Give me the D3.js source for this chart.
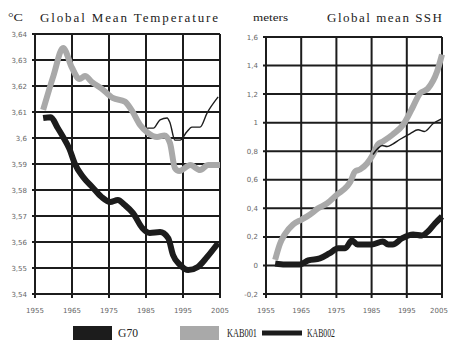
<!DOCTYPE html>
<html>
<head>
<meta charset="utf-8">
<script src="https://cdn.jsdelivr.net/npm/d3@7"></script>
<style>
  body { margin: 0; background: white; }
  .tick-label { font-family: "DejaVu Sans", sans-serif; font-size: 7px; fill: #666; }
  .title { font-family: "Liberation Serif", serif; fill: #222; }
</style>
</head>
<body>
<div id="vis"></div>
<script>
// years on the x axis
let yearTicks = [1955, 1965, 1975, 1985, 1995, 2005];

// temperature panel
let tempTicks = [3.54, 3.55, 3.56, 3.57, 3.58, 3.59, 3.6, 3.61, 3.62, 3.63, 3.64];
let tempLabels = ["3,54", "3,55", "3,56", "3,57", "3,58", "3,59", "3,6", "3,61", "3,62", "3,63", "3,64"];

let tempKAB001 = [
  [1957.2, 3.6108], [1960, 3.624], [1962.6, 3.6346], [1965, 3.627], [1967, 3.6227], [1968.5, 3.6238],
  [1970.4, 3.6215], [1973, 3.619], [1976, 3.6154], [1979.3, 3.614], [1981.2, 3.6105], [1983.4, 3.605],
  [1985.5, 3.602], [1988, 3.6004], [1990, 3.601], [1991.5, 3.598], [1992.8, 3.5885], [1994, 3.5873],
  [1997, 3.5896], [1999.6, 3.5877], [2001.8, 3.5896], [2005, 3.5896]
];
let tempG70 = [
  [1985.3, 3.6038], [1987, 3.6038], [1988.8, 3.607], [1990.7, 3.6077], [1991.5, 3.6058], [1992.8, 3.5992],
  [1994.2, 3.5992], [1996, 3.6023], [1997.4, 3.6042], [1999.6, 3.6042], [2001.5, 3.6096], [2004.5, 3.6158]
];
let tempKAB002 = [
  [1957.2, 3.6077], [1959.3, 3.608], [1961, 3.6042], [1962.6, 3.6004], [1964.3, 3.5958], [1965.8, 3.590],
  [1968, 3.585], [1970.7, 3.5808], [1973, 3.5773], [1975.3, 3.5754], [1977.4, 3.5762], [1979.3, 3.5742],
  [1981.5, 3.5711], [1984, 3.5654], [1986, 3.5635], [1988.8, 3.5638], [1991, 3.5615], [1992.3, 3.555],
  [1994.2, 3.5512], [1996.4, 3.5492], [1999, 3.5504], [2001.5, 3.5542], [2004.5, 3.5596]
];

// sea surface height panel
let sshTicks = [-0.2, 0, 0.2, 0.4, 0.6, 0.8, 1, 1.2, 1.4, 1.6];
let sshLabels = ["-0,2", "0", "0,2", "0,4", "0,6", "0,8", "1", "1,2", "1,4", "1,6"];

let sshKAB001 = [
  [1957.6, 0.04], [1959, 0.154], [1960.4, 0.22], [1962.7, 0.287], [1965.2, 0.322], [1967.5, 0.357],
  [1969.8, 0.40], [1972.3, 0.434], [1975.2, 0.497], [1978, 0.553], [1979, 0.588], [1980.3, 0.658],
  [1981.7, 0.672], [1983.7, 0.714], [1985.4, 0.777], [1986.8, 0.847], [1988.2, 0.868], [1991, 0.917],
  [1994, 0.987], [1996.5, 1.099], [1998.7, 1.204], [2001, 1.239], [2003.6, 1.358], [2005, 1.477]
];
let sshG70 = [
  [1985.4, 0.777], [1986.8, 0.82], [1988, 0.84], [1989.4, 0.833], [1991, 0.85], [1993, 0.882],
  [1996, 0.924], [1998.2, 0.95], [2000, 0.938], [2002.5, 0.994], [2005, 1.029]
];
let sshKAB002 = [
  [1957.6, 0.014], [1960.4, 0.007], [1964.6, 0.007], [1967, 0.035], [1970.3, 0.049], [1973, 0.084],
  [1975.5, 0.12], [1977.5, 0.12], [1979.4, 0.175], [1981, 0.147], [1985, 0.147], [1988.2, 0.168],
  [1989.7, 0.147], [1991, 0.147], [1993.6, 0.189], [1996.8, 0.217], [1999.3, 0.21], [2001, 0.238],
  [2003, 0.294], [2005, 0.343]
];

let seriesNames = ["G70", "KAB001", "KAB002"];

let width = 449, height = 340;
let grey = "#a9a9a9", dark = "#1c1c1c";

let svg = d3.select('#vis')
  .append('svg')
  .attr("width", width)
  .attr("height", height)
  .style('background-color', 'white');

function panel(opts) {
  let x = d3.scaleLinear().domain([1955, 2005]).range(opts.xr);
  let y = d3.scaleLinear().domain(opts.ydom).range(opts.yr);
  let g = svg.append("g");

  // horizontal grid + little outer tick
  g.selectAll(".hg").data(opts.ticks).join("line")
    .attr("x1", opts.xr[0] - 3).attr("x2", opts.xr[1])
    .attr("y1", d => y(d)).attr("y2", d => y(d))
    .attr("stroke", dark).attr("stroke-width", 2);

  // vertical grid, running past the bottom a bit
  g.selectAll(".vg").data(yearTicks).join("line")
    .attr("x1", d => x(d)).attr("x2", d => x(d))
    .attr("y1", opts.yr[1]).attr("y2", opts.yr[0] + 4)
    .attr("stroke", dark).attr("stroke-width", 2);

  g.selectAll(".yl").data(opts.ticks).join("text")
    .attr("class", "tick-label")
    .attr("x", opts.xr[0] - 8)
    .attr("y", d => y(d) + 2.5)
    .attr("text-anchor", "end")
    .text((d, i) => opts.labels[i]);

  // keep the last year label inside the picture
  g.selectAll(".xl").data(yearTicks).join("text")
    .attr("class", "tick-label")
    .attr("x", d => Math.min(x(d), width - 10))
    .attr("y", 313)
    .attr("text-anchor", "middle")
    .text(d => d);

  let line = d3.line().x(d => x(d[0])).y(d => y(d[1])).curve(d3.curveMonotoneX);

  g.append("path").datum(opts.kab001).attr("d", line)
    .attr("fill", "none").attr("stroke", grey).attr("stroke-width", 6)
    .attr("stroke-linejoin", "round");
  g.append("path").datum(opts.kab002).attr("d", line)
    .attr("fill", "none").attr("stroke", dark).attr("stroke-width", 6)
    .attr("stroke-linejoin", "round");
  g.append("path").datum(opts.g70).attr("d", line)
    .attr("fill", "none").attr("stroke", dark).attr("stroke-width", 1.4);

  g.append("text").attr("class", "title")
    .attr("x", opts.unitX).attr("y", 21)
    .style("font-size", opts.unitSize)
    .attr("textLength", opts.unitLen)
    .attr("lengthAdjust", "spacingAndGlyphs")
    .text(opts.unit);
  g.append("text").attr("class", "title")
    .attr("x", opts.titleX).attr("y", 22)
    .style("font-size", "13px")
    .attr("textLength", opts.titleLen)
    .attr("lengthAdjust", "spacing")
    .text(opts.title);
}

panel({
  xr: [35, 220], yr: [294, 34], ydom: [3.54, 3.64],
  ticks: tempTicks, labels: tempLabels,
  kab001: tempKAB001, kab002: tempKAB002, g70: tempG70,
  unit: "°C", unitX: 8, unitSize: "11px", unitLen: 15,
  title: "Global Mean Temperature", titleX: 40, titleLen: 178
});

panel({
  xr: [266, 442], yr: [294, 37], ydom: [-0.2, 1.6],
  ticks: sshTicks, labels: sshLabels,
  kab001: sshKAB001, kab002: sshKAB002, g70: sshG70,
  unit: "meters", unitX: 253, unitSize: "11px", unitLen: 35,
  title: "Global mean SSH", titleX: 327, titleLen: 115
});

// legend
let lg = svg.append("g");
lg.append("rect").attr("x", 73).attr("y", 326).attr("width", 39).attr("height", 16).attr("fill", dark);
lg.append("rect").attr("x", 180).attr("y", 326).attr("width", 39).attr("height", 16).attr("fill", grey);
lg.append("line").attr("x1", 262).attr("x2", 302).attr("y1", 333).attr("y2", 333)
  .attr("stroke", dark).attr("stroke-width", 5);
let legendX = [118, 227, 307];
let legendLen = [20, 30, 28];
lg.selectAll(".lt").data(seriesNames).join("text")
  .attr("class", "title")
  .attr("x", (d, i) => legendX[i]).attr("y", 337)
  .style("font-size", "13.5px")
  .attr("textLength", (d, i) => legendLen[i])
  .attr("lengthAdjust", "spacingAndGlyphs")
  .text(d => d);
</script>
</body>
</html>
